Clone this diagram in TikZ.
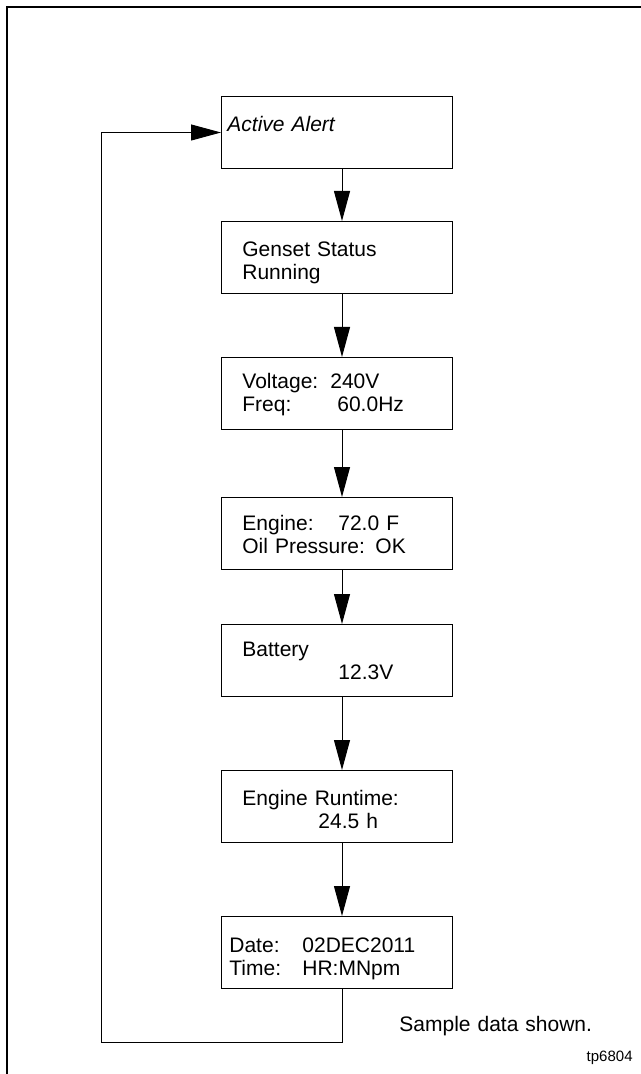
\documentclass[tikz,border=0pt]{standalone}
\usepackage{fontspec}
\setmainfont{Liberation Sans}
\usetikzlibrary{arrows.meta}
\newcommand{\fieldlabel}[2]{\makebox[#1][l]{#2}}

\begin{document}
\begin{tikzpicture}[x=0.5pt, y=-0.5pt,
		panel/.style={draw, line width=0.5pt, anchor=north west, inner sep=0pt,
			minimum width=115.5pt, minimum height=36pt},
		paneltext/.style={anchor=base west, inner sep=0pt, align=left, text width=105pt,
			font=\fontsize{10.5}{11.5}\selectfont},
		flow/.style={line width=0.5pt, -{Triangle[length=15pt, width=8pt]}}]
				\useasboundingbox (0,0) rectangle (641,1074);
				% frame
				\draw[line width=1.1pt] (7,1074) -- (7,7) -- (641,7);
				% display screens
				\node[panel] (alert) at (221,96) {};
				\node[panel] (genset) at (221,221) {};
				\node[panel] (volt) at (221,357) {};
				\node[panel] (engine) at (221,497) {};
				\node[panel] (battery) at (221,624) {};
				\node[panel] (runtime) at (221,770) {};
				\node[panel] (date) at (221,916) {};
				\node[paneltext] (alerttxt) at (227,132) {\itshape Active Alert};
				\node[paneltext] (gensettxt) at (242,257) {Genset Status\\Running};
				\node[paneltext] (volttxt) at (242,388) {\fieldlabel{44pt}{Voltage:}240V\\\fieldlabel{47.5pt}{Freq:}60.0Hz};
				\node[paneltext] (enginetxt) at (242,530) {\fieldlabel{48pt}{Engine:}72.0 F\\Oil Pressure: OK};
				\node[paneltext] (batterytxt) at (242,656) {Battery\\\hspace*{48pt}12.3V};
				\node[paneltext] (runtimetxt) at (242,805) {Engine Runtime:\\\hspace*{38pt}24.5 h};
				\node[paneltext] (datetxt) at (229,952) {\fieldlabel{36.5pt}{Date:}02DEC2011\\\fieldlabel{36.5pt}{Time:}HR:MNpm};
				% arrows down the list
				\foreach \a/\b in {alert/genset, genset/volt, volt/engine, engine/battery, battery/runtime, runtime/date} {
					\draw[flow] ([xshift=2.5pt]\a.south) -- ([xshift=2.5pt]\b.north);
				}
				% back to the top
				\coordinate (loopcorner) at (101,1042);
				\draw[flow] ([xshift=2.5pt]date.south) |- (loopcorner) |- (alert.west);
				\node[paneltext] (note) at (399,1031) {Sample data shown.};
				\node[anchor=base east, inner sep=0pt, font=\fontsize{7.5}{9}\selectfont] (figid) at (633,1061) {tp6804};
			\end{tikzpicture}
\end{document}
